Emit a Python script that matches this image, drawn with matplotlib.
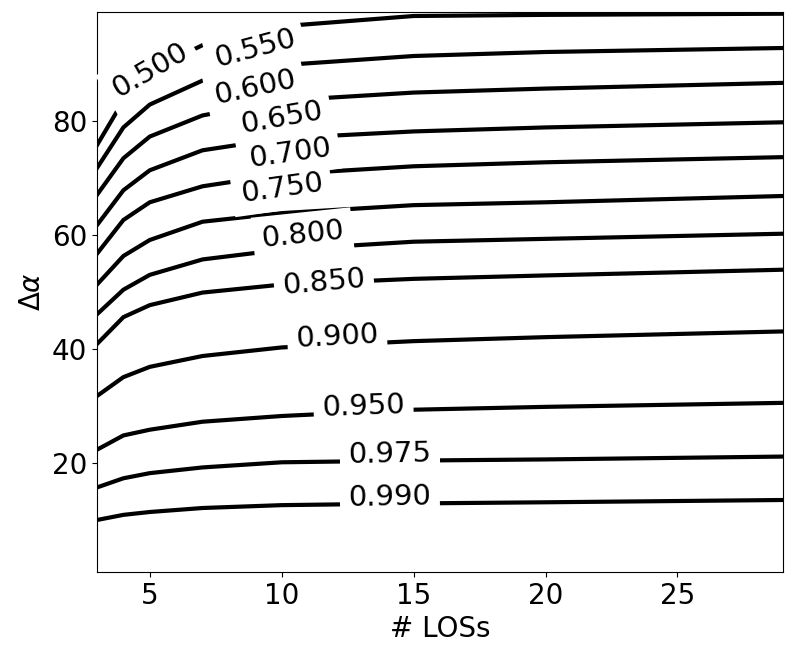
import matplotlib
matplotlib.use("Agg")
import matplotlib.pyplot as plt

# contour levels, alpha value at each number of LOSs
n_los = [3, 4, 5, 7, 10, 15, 20, 29]
levels = ["0.500", "0.550", "0.600", "0.650", "0.700", "0.750",
          "0.800", "0.850", "0.900", "0.950", "0.975", "0.990"]
curves = [
    [75.7, 83.5, 88.7, 93.2, 96.5, 98.3, 98.5, 98.7],
    [71.7, 78.8, 82.8, 87.0, 89.7, 91.3, 92.0, 92.7],
    [67.0, 73.4, 77.2, 80.9, 83.5, 84.9, 85.6, 86.6],
    [61.7, 67.8, 71.3, 74.8, 76.9, 78.1, 78.8, 79.7],
    [56.7, 62.6, 65.7, 68.5, 70.6, 72.0, 72.7, 73.6],
    [51.3, 56.3, 59.1, 62.3, 63.8, 65.2, 65.7, 66.8],
    [46.1, 50.4, 53.0, 55.7, 57.4, 58.8, 59.3, 60.2],
    [40.9, 45.6, 47.7, 49.9, 51.3, 52.3, 52.9, 53.9],
    [31.8, 35.1, 36.9, 38.8, 40.3, 41.4, 42.1, 43.1],
    [22.4, 24.9, 25.9, 27.3, 28.3, 29.4, 29.9, 30.6],
    [15.8, 17.4, 18.3, 19.3, 20.2, 20.5, 20.7, 21.2],
    [10.1, 11.0, 11.5, 12.2, 12.7, 13.0, 13.2, 13.6],
]
label_x = [5.0, 9.0, 9.0, 10.0, 10.3, 10.0, 10.8, 11.6, 12.1, 13.1, 14.1, 14.1]
label_y = [88.8, 92.6, 85.7, 80.4, 74.3, 68.2, 60.0, 51.6, 42.1, 29.9, 21.6, 14.0]
label_rot = [30, 15, 12, 10, 8, 8, 6, 5, 3, 2, 1, 1]

fig = plt.figure(figsize=(8.01, 6.55), dpi=100)
ax = fig.add_axes([97 / 801, 1 - 572 / 655, 686 / 801, 560 / 655])

for ys in curves:
    ax.plot(n_los, ys, color="black", lw=3)

for lab, x, y, r in zip(levels, label_x, label_y, label_rot):
    ax.text(x, y, lab, fontsize=21, rotation=r, ha="center", va="center",
            rotation_mode="anchor",
            bbox=dict(facecolor="white", edgecolor="none", pad=6), zorder=5)

ax.set_xlim(3, 29)
ax.set_ylim(1, 99)
ax.set_xticks([5, 10, 15, 20, 25])
ax.set_yticks([20, 40, 60, 80])
ax.tick_params(labelsize=20)
ax.set_xlabel("# LOSs", fontsize=20)
ax.set_ylabel(r"$\Delta\alpha$", fontsize=20)

fig.savefig("out.png", dpi=100)
